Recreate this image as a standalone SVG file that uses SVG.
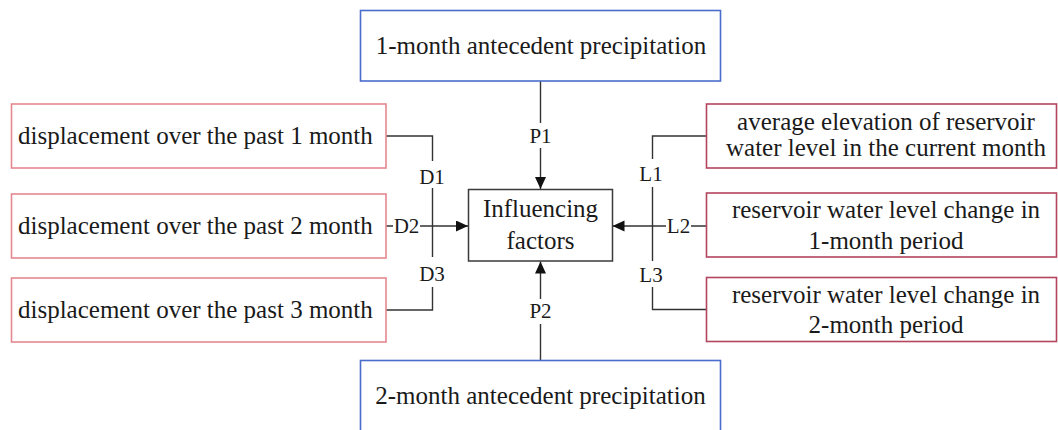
<svg xmlns="http://www.w3.org/2000/svg" width="1058" height="430" viewBox="0 0 1058 430">
<style>
text{font-family:"Liberation Serif","Times New Roman",serif;fill:#1a1a1a}
.t{font-size:25px}
.lb{font-size:21px;text-anchor:middle}
.c{text-anchor:middle}
.bl{fill:#fff;stroke:#4a6ccc;stroke-width:1.6}
.lf{fill:#fff;stroke:#e58890;stroke-width:1.6}
.rt{fill:#fff;stroke:#b5445f;stroke-width:1.6}
.ct{fill:#fff;stroke:#3a3a3a;stroke-width:1.5}
.cn{fill:none;stroke:#333;stroke-width:1.4}
</style>
<defs>
<marker id="ah" markerUnits="userSpaceOnUse" markerWidth="14" markerHeight="12" refX="12" refY="5.5" orient="auto">
<path d="M0,0 L12,5.5 L0,11 Z" fill="#111"/>
</marker>
</defs>
<rect width="1058" height="430" fill="#fff"/>
<g id="connectors">
<path class="cn" d="M540.5,81 V123 M540.5,148 V189" marker-end="url(#ah)"/>
<path class="cn" d="M540.5,361 V324 M540.5,299 V261.5" marker-end="url(#ah)"/>
<path class="cn" d="M386,136 H432.5 V161 M432.5,188 V257 M432.5,287 V310 H386"/>
<path class="cn" d="M386,226 H393 M420,226 H468" marker-end="url(#ah)"/>
<path class="cn" d="M706.5,136 H652.5 V159 M652.5,187 V261 M652.5,287 V309.5 H706.5"/>
<path class="cn" d="M706.5,226 H691 M666,226 H612.5" marker-end="url(#ah)"/>
<text class="lb" x="540.5" y="143">P1</text>
<text class="lb" x="540.5" y="318">P2</text>
<text class="lb" x="432" y="183.5">D1</text>
<text class="lb" x="406.5" y="233">D2</text>
<text class="lb" x="432" y="280.5">D3</text>
<text class="lb" x="651" y="180.5">L1</text>
<text class="lb" x="678.5" y="233">L2</text>
<text class="lb" x="651" y="282">L3</text>
</g>
<g id="p1">
<rect class="bl" x="360.5" y="10.5" width="360" height="70.5"/>
<text class="t c" x="541" y="53.5">1-month antecedent precipitation</text>
</g>
<g id="p2">
<rect class="bl" x="360.5" y="360.5" width="360" height="72"/>
<text class="t c" x="540.5" y="403.5">2-month antecedent precipitation</text>
</g>
<g id="center">
<rect class="ct" x="468.5" y="189.5" width="144" height="71.5"/>
<text class="t c" x="540.5" y="217">Influencing</text>
<text class="t c" x="540.5" y="248.5">factors</text>
</g>
<g id="d1">
<rect class="lf" x="11.5" y="104" width="374.5" height="64"/>
<text class="t" x="18" y="144">displacement over the past 1 month</text>
</g>
<g id="d2">
<rect class="lf" x="11.5" y="194" width="374.5" height="64"/>
<text class="t" x="18" y="234">displacement over the past 2 month</text>
</g>
<g id="d3">
<rect class="lf" x="11.5" y="278" width="374.5" height="64"/>
<text class="t" x="18" y="318">displacement over the past 3 month</text>
</g>
<g id="l1">
<rect class="rt" x="706.5" y="104" width="350" height="64"/>
<text class="t c" x="886" y="129.5">average elevation of reservoir</text>
<text class="t c" x="886" y="156">water level in the current month</text>
</g>
<g id="l2">
<rect class="rt" x="706.5" y="193" width="350" height="64"/>
<text class="t c" x="886" y="217.5">reservoir water level change in</text>
<text class="t c" x="886" y="248.5">1-month period</text>
</g>
<g id="l3">
<rect class="rt" x="706.5" y="277.5" width="350" height="64"/>
<text class="t c" x="886" y="302.5">reservoir water level change in</text>
<text class="t c" x="886" y="333">2-month period</text>
</g>
</svg>
